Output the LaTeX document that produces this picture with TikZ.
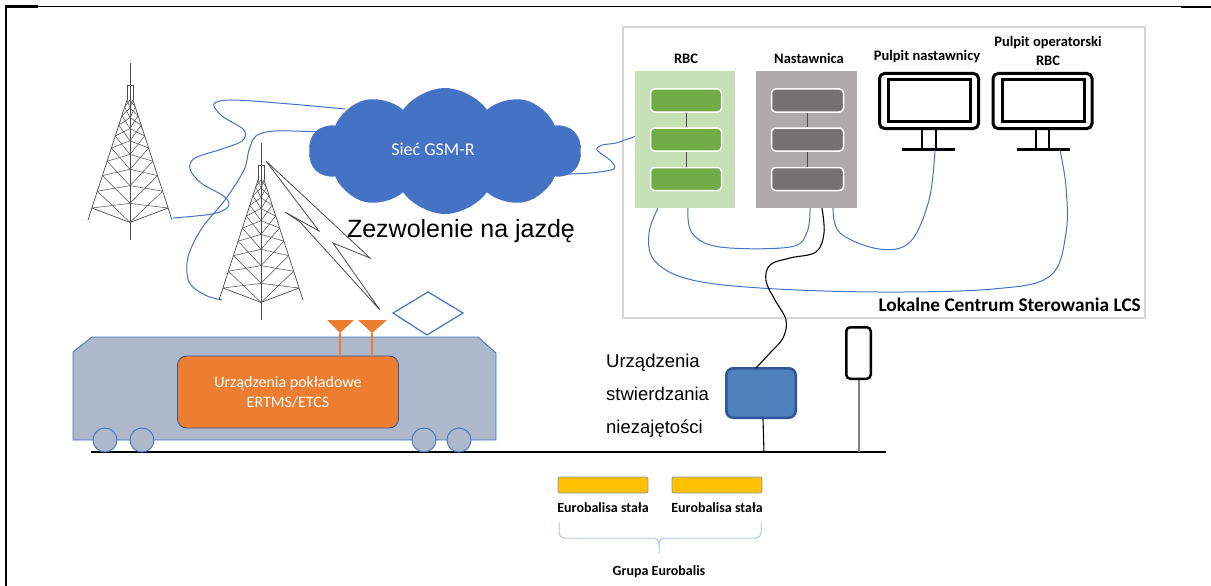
\documentclass[tikz,border=0pt]{standalone}
\usepackage{fontspec}
\setmainfont{Carlito}
\newfontfamily\arialfont{Liberation Sans}
\usetikzlibrary{shapes.symbols}
\definecolor{gsmblue}{HTML}{4472C4}
\definecolor{cable}{HTML}{4472C4}
\definecolor{rbcpanel}{HTML}{C5E0B4}
\definecolor{rbcblock}{HTML}{70AD47}
\definecolor{nastpanel}{HTML}{AEAAAA}
\definecolor{nastblock}{HTML}{767171}
\definecolor{trainbody}{HTML}{ADB9CA}
\definecolor{obuorange}{HTML}{ED7D31}
\definecolor{tvdblue}{HTML}{4F81BD}
\definecolor{tvdedge}{HTML}{2F5597}
\definecolor{balise}{HTML}{FFC000}
\definecolor{baliseedge}{HTML}{8497B0}
\definecolor{bracecol}{HTML}{B4C7E7}
\definecolor{lcsframe}{HTML}{D4D4D4}
\definecolor{towergray}{HTML}{4A4A4A}
\tikzset{
  towerline/.style={draw=towergray, line width=0.7pt},
  wire/.style={draw=cable, line width=1pt},
  lbl/.style={font=\bfseries\fontsize{14.5}{17}\selectfont, anchor=base, inner sep=0pt},
  panelbox/.style={minimum width=100pt, minimum height=137pt, inner sep=0pt, draw=none},
  blockbox/.style={minimum width=71pt, minimum height=23pt, inner sep=0pt, rounded corners=4pt, draw=white, line width=1.5pt},
  monframe/.style={draw=black, line width=3pt, rounded corners=5pt, minimum width=99pt, minimum height=55pt, inner sep=0pt},
  monscreen/.style={draw=black, line width=3pt, minimum width=82pt, minimum height=42pt, inner sep=0pt},
  lattice tower/.pic={
    \draw[towerline] (0,-37) -- (0,140);
    \draw[towerline] (-3,0) -- (-3,-15) -- (3,-15) -- (3,0);
    \draw[towerline] (-3,0) -- (-42,120);
    \draw[towerline] (3,0) -- (42,120);
    \draw[towerline] (-38.1,108) -- (0,122.4) -- (38.1,108);
    \foreach \a/\b in {0/0.06,0.06/0.13,0.13/0.21,0.21/0.30,0.30/0.40,0.40/0.51,0.51/0.63,0.63/0.76,0.76/0.9}{
      \draw[towerline, line width=0.5pt] ({-3-39*\a},{120*\a}) -- (0,{136*\b});
      \draw[towerline, line width=0.5pt] (0,{136*\a}) -- ({-3-39*\b},{120*\b});
      \draw[towerline, line width=0.5pt] ({3+39*\a},{120*\a}) -- (0,{136*\b});
      \draw[towerline, line width=0.5pt] (0,{136*\a}) -- ({3+39*\b},{120*\b});
    }
  }
}
\begin{document}
\begin{tikzpicture}[x=1pt,y=-1pt]
\useasboundingbox (0,0) rectangle (1211,586);

% page frame
\draw[line width=2.2pt] (6,5) -- (6,586);
\draw[line width=0.9pt] (6,6.5) -- (1181,6.5);
\draw[line width=2.2pt] (5,6.5) -- (38,6.5);
\draw[line width=2.2pt] (1181,7) -- (1211,7);

% local control centre frame
\draw[lcsframe, line width=2pt] (623,27) rectangle (1145,318);
\node[font=\bfseries\fontsize{19.3}{22}\selectfont, anchor=base east, inner sep=0pt] (lcslbl) at (1141,311) {Lokalne Centrum Sterowania LCS};

% RBC rack
\node[panelbox, fill=rbcpanel] (rbcp) at (685,139.5) {};
\node[blockbox, fill=rbcblock] (rb1) at (686,100.5) {};
\node[blockbox, fill=rbcblock] (rb2) at (686,139.5) {};
\node[blockbox, fill=rbcblock] (rb3) at (686,179) {};
\draw[towergray, line width=1pt] (rb1.south) -- (rb2.north) (rb2.south) -- (rb3.north);
\node[lbl] (rbclbl) at (686,64) {RBC};

% interlocking rack
\node[panelbox, fill=nastpanel, minimum width=101pt] (nastp) at (806.5,139.5) {};
\node[blockbox, fill=nastblock, minimum width=72pt] (nb1) at (807.5,100.5) {};
\node[blockbox, fill=nastblock, minimum width=72pt] (nb2) at (807.5,139.5) {};
\node[blockbox, fill=nastblock, minimum width=72pt] (nb3) at (807.5,179) {};
\draw[towergray, line width=1pt] (nb1.south) -- (nb2.north) (nb2.south) -- (nb3.north);
\node[lbl] (nastlbl) at (809,64) {Nastawnica};

% operator desks
\node[monframe] (mon1) at (929,101) {};
\node[monscreen] at (929.5,100.5) {};
\draw[line width=2.5pt] (922,130) -- (922,148) (936,130) -- (936,148);
\draw[line width=3pt] (902,149) -- (955,149);
\node[lbl] (mon1lbl) at (927,61) {Pulpit nastawnicy};

\node[monframe] (mon2) at (1042.5,101) {};
\node[monscreen] at (1043,100.5) {};
\draw[line width=2.5pt] (1036,130) -- (1036,148) (1049,130) -- (1049,148);
\draw[line width=3pt] (1017,149) -- (1070,149);
\node[lbl] (mon2lbl) at (1048,47) {Pulpit operatorski};
\node[lbl] (mon2lblb) at (1048,66) {RBC};

% cable end points
\coordinate (rbcA) at ([xshift=-27pt]rbcp.south);
\coordinate (rbcB) at ([xshift=3pt]rbcp.south);
\coordinate (nastA) at ([xshift=3.5pt]nastp.south);
\coordinate (nastK) at ([xshift=15.5pt]nastp.south);
\coordinate (nastB) at ([xshift=26.5pt]nastp.south);
\coordinate (mon1base) at (935,150);
\coordinate (mon2base) at (1060,150);

% cabling inside the control centre
\draw[wire] plot[smooth, tension=0.6] coordinates {(rbcA) (649,233) (654,260) (688,279) (760,288) (878,292) (993,289) (1050,276) (1066,233) (1066,187) (mon2base)};
\draw[wire] plot[smooth, tension=0.6] coordinates {(rbcB) (692,233) (720,247) (790,247) (807,232) (nastA)};
\draw[wire] plot[smooth, tension=0.6] coordinates {(nastB) (840,233) (879,249) (910,242) (929,200) (mon1base)};

% track vacancy detection
\node[draw=tvdedge, fill=tvdblue, line width=2.5pt, rounded corners=7pt, minimum width=69.5pt, minimum height=49.5pt, inner sep=0pt] (tvd) at (761,393) {};
\coordinate (tvdin) at (756,368);
\draw[line width=1.1pt] plot[smooth, tension=0.6] coordinates {(nastK) (824,233) (816,252) (790,258) (770,265) (766,281) (775,300) (786,320) (783,338) (770,353) (tvdin)};
\node[font=\arialfont\fontsize{18.5}{33}\selectfont, anchor=base west, align=left, inner sep=0pt] (tvdlbl) at (606,433) {Urządzenia\\stwierdzania\\niezajętości};

% rail
\draw[line width=2.5pt] (91,452) -- (886,452);
\coordinate (tvdrail) at (764,452);
\draw[line width=1.1pt] ([xshift=2pt]tvd.south) -- (tvdrail);

% signal
\node[draw=black, fill=white, line width=2.5pt, rounded corners=4pt, minimum width=24.5pt, minimum height=51.5pt, inner sep=0pt] (sig) at (858.5,353) {};
\coordinate (sigfoot) at (858.5,452);
\draw[gray, line width=2pt] (sig.south) -- (sigfoot);

% eurobalises
\node[draw=baliseedge, fill=balise, line width=0.8pt, rounded corners=2pt, minimum width=90pt, minimum height=16pt, inner sep=0pt] (eb1) at (603,485) {};
\node[draw=baliseedge, fill=balise, line width=0.8pt, rounded corners=2pt, minimum width=90pt, minimum height=16pt, inner sep=0pt] (eb2) at (717,485) {};
\node[lbl, font=\bfseries\fontsize{14}{17}\selectfont] (eb1lbl) at (603,512) {Eurobalisa stała};
\node[lbl, font=\bfseries\fontsize{14}{17}\selectfont] (eb2lbl) at (717,512) {Eurobalisa stała};
\draw[bracecol, line width=1pt, rounded corners=5pt] (559,522) -- (559,538) -- (659,538) -- (659,553);
\draw[bracecol, line width=1pt, rounded corners=5pt] (659,546) -- (659,538) -- (761,538) -- (761,522);
\node[lbl, font=\bfseries\fontsize{14}{17}\selectfont] (grplbl) at (659,575) {Grupa Eurobalis};

% towers
\pic at (130,100) {lattice tower};
\pic at (261,180) {lattice tower};
\coordinate (t1foot) at (173,218);
\coordinate (t2foot) at (222,300);

% radio link symbol
\draw[towergray, line width=0.8pt, line join=miter] (266,161) -- (370,258) -- (333,243) -- (380,310) -- (300,222) -- (285,212) -- (319,231) -- cycle;

% radio cables to the GSM-R cloud
\coordinate (gsmA) at (345,109);
\coordinate (gsmB) at (322,132);
\coordinate (gsmC) at (545,175);
\coordinate (rbcin) at ([yshift=3pt]rbcp.west);
\draw[wire] plot[smooth, tension=0.55] coordinates {(gsmA) (290,104) (232,100) (214,104) (222,116) (244,130) (242,141) (222,149) (195,158) (190,169) (201,183) (225,197) (228,207) (212,214) (t1foot)};
\draw[wire] plot[smooth, tension=0.55] coordinates {(gsmB) (275,131) (256,136) (249,150) (244,170) (225,200) (202,228) (188,257) (189,282) (205,295) (t2foot)};
\draw[wire] plot[smooth, tension=0.45] coordinates {(gsmC) (590,173) (614,169) (611,161) (597,150) (602,145) (616,143) (rbcin)};

% GSM-R network
\node[cloud, cloud puffs=10, cloud puff arc=110, aspect=2.2, minimum width=272pt, minimum height=126pt, fill=gsmblue, draw=none, inner sep=0pt] (gsm) at (445,151) {};
\node[font=\fontsize{18}{20}\selectfont, text=white, anchor=base, inner sep=0pt] (gsmlbl) at (433,155) {Sieć GSM-R};

\node[font=\arialfont\fontsize{25}{28}\selectfont, anchor=base, inner sep=0pt] (ma) at (461,237) {Zezwolenie na jazdę};

% train
\draw[draw=cable, fill=trainbody, line width=0.9pt] (73,352) -- (92,337) -- (478,337) -- (496,353) -- (496,440) -- (73,440) -- cycle;
\foreach \wx in {105,142,424,459}
  \draw[draw=cable, fill=trainbody, line width=0.9pt] (\wx,440) circle[radius=12pt];
\node[draw=tvdedge, fill=obuorange, line width=0.8pt, rounded corners=9pt, minimum width=221pt, minimum height=72pt, inner sep=0pt] (obu) at (288,392) {};
\node[font=\fontsize{16}{20}\selectfont, text=white, align=center, anchor=base, inner sep=0pt] (obulbl) at (288,407) {Urządzenia pokładowe\\ERTMS/ETCS};

% antennas
\coordinate (ant1) at (340,333);
\coordinate (ant2) at (372,333);
\fill[obuorange] (327,320) -- (354,320) -- (ant1) -- cycle;
\fill[obuorange] (358,320) -- (387,320) -- (ant2) -- cycle;
\draw[obuorange, line width=1.2pt] (ant1) -- (ant1 |- obu.north);
\draw[obuorange, line width=1.2pt] (ant2) -- (ant2 |- obu.north);

% pantograph
\draw[cable, line width=1.2pt] (393,313) -- (428,292) -- (463,313) -- (427,335) -- cycle;
\end{tikzpicture}
\end{document}
